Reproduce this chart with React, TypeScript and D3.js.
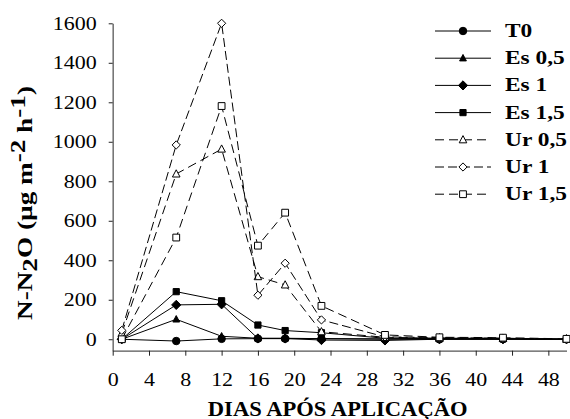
import React, { useEffect, useRef } from "react";
import * as d3 from "d3";

// days after application
const days = [1, 7, 12, 16, 19, 23, 30, 36, 43, 50];

// N-N2O flux (ug m-2 h-1)
const t0 = [0, -9, 2, 3, 3, 3, 0, 0, 0, 0];
const es05 = [0, 101, 15, 5, 5, 3, 2, 2, 2, 0];
const es1 = [0, 174, 177, 4, 4, -4, -6, 0, 0, 0];
const es15 = [0, 241, 195, 72, 44, 33, 5, 3, 3, 0];
const ur05 = [30, 837, 963, 317, 275, 38, 10, 5, 5, 0];
const ur1 = [45, 984, 1600, 223, 385, 98, 12, 8, 5, 0];
const ur15 = [0, 515, 1181, 474, 641, 169, 22, 10, 8, 2];

const seriesNames = ["T0", "Es 0,5", "Es 1", "Es 1,5", "Ur 0,5", "Ur 1", "Ur 1,5"];
const seriesValues = [t0, es05, es1, es15, ur05, ur1, ur15];

const xTicks = [0, 4, 8, 12, 16, 20, 24, 28, 32, 36, 40, 44, 48];
const yTicks = [0, 200, 400, 600, 800, 1000, 1200, 1400, 1600];

const W = 570;
const H = 419;
const FONT = "'Liberation Serif', 'Times New Roman', serif";

// marker style per series
const styles = [
  { shape: "circle", filled: true, dash: null },
  { shape: "triangle", filled: true, dash: null },
  { shape: "diamond", filled: true, dash: null },
  { shape: "square", filled: true, dash: null },
  { shape: "triangle", filled: false, dash: "9,5" },
  { shape: "diamond", filled: false, dash: "9,4" },
  { shape: "square", filled: false, dash: "9,5" },
];

function markerPath(shape: string, filled: boolean) {
  if (shape === "circle") return d3.symbol(d3.symbolCircle, 44)()!;
  if (shape === "triangle") {
    const s = filled ? 3.4 : 3.8;
    return `M0,${-s * 1.1}L${s},${s * 0.8}L${-s},${s * 0.8}Z`;
  }
  if (shape === "diamond") {
    const s = filled ? 4.6 : 4.1;
    return `M0,${-s}L${s},0L0,${s}L${-s},0Z`;
  }
  const s = filled ? 3.1 : 3.4;
  return `M${-s},${-s}H${s}V${s}H${-s}Z`;
}

const App = () => {
  const svgRef = useRef<SVGSVGElement>(null);

  useEffect(() => {
    const svg = d3.select(svgRef.current);
    svg.selectAll("*").remove();

    const x = d3.scaleLinear().domain([0, 50]).range([112.7, 566.5]);
    const y = d3.scaleLinear().domain([-58, 1600]).range([350.7, 23.3]);

    // y axis
    const gy = svg
      .append("g")
      .attr("transform", `translate(${x(0)},0)`)
      .call(
        d3.axisLeft(y).tickValues(yTicks).tickFormat(d3.format("d")).tickSize(4).tickSizeOuter(0)
      );
    gy.select(".domain").attr("stroke", "#777").attr("stroke-width", 1.6);
    gy.selectAll(".tick line").attr("stroke", "#222");
    gy.selectAll(".tick text")
      .attr("font-family", FONT)
      .attr("font-size", 18)
      .attr("fill", "#000")
      .attr("x", -16 / 1.22)
      .attr("dy", "0.33em")
      .attr("transform", "scale(1.22,1)");

    // x axis
    const gx = svg
      .append("g")
      .attr("transform", `translate(0,${y.range()[0]})`)
      .call(
        d3.axisBottom(x).tickValues(xTicks).tickFormat(d3.format("d")).tickSize(5).tickSizeOuter(0)
      );
    gx.select(".domain").attr("stroke", "#555").attr("stroke-width", 1.3);
    gx.selectAll(".tick line").attr("stroke", "#222");
    gx.selectAll(".tick text")
      .attr("font-family", FONT)
      .attr("font-size", 18)
      .attr("fill", "#000")
      .attr("y", 35.3)
      .attr("dy", 0)
      .attr("transform", "scale(1.22,1)");

    const line = d3
      .line<number>()
      .x((_, i) => x(days[i]))
      .y((d) => y(d));

    seriesValues.forEach((vals, k) => {
      const st = styles[k];
      svg
        .append("path")
        .datum(vals)
        .attr("d", line)
        .attr("fill", "none")
        .attr("stroke", "#000")
        .attr("stroke-width", 1)
        .attr("stroke-dasharray", st.dash);

      svg
        .append("g")
        .selectAll("path")
        .data(vals)
        .join("path")
        .attr("transform", (d, i) => `translate(${x(days[i])},${y(d)})`)
        .attr("d", markerPath(st.shape, st.filled))
        .attr("fill", st.filled ? "#000" : "#fff")
        .attr("stroke", "#000")
        .attr("stroke-width", 1);
    });

    // legend
    const legend = svg.append("g");
    seriesNames.forEach((name, k) => {
      const st = styles[k];
      const ly = 31 + k * 27.2;
      legend
        .append("line")
        .attr("x1", 435)
        .attr("x2", 491)
        .attr("y1", ly)
        .attr("y2", ly)
        .attr("stroke", "#000")
        .attr("stroke-width", 1)
        .attr("stroke-dasharray", st.dash);
      legend
        .append("path")
        .attr("transform", `translate(463,${ly})`)
        .attr("d", markerPath(st.shape, st.filled))
        .attr("fill", st.filled ? "#000" : "#fff")
        .attr("stroke", "#000");
      legend
        .append("g")
        .attr("transform", `translate(505,${ly + 6}) scale(1.3,1)`)
        .append("text")
        .attr("font-family", FONT)
        .attr("font-size", 18)
        .attr("font-weight", "bold")
        .text(name);
    });

    // axis titles
    svg
      .append("g")
      .attr("transform", "translate(337.7,415.7) scale(1.13,1)")
      .append("text")
      .attr("text-anchor", "middle")
      .attr("font-family", FONT)
      .attr("font-size", 20)
      .attr("font-weight", "bold")
      .text("DIAS APÓS APLICAÇÃO");

    const yl = svg
      .append("g")
      .attr("transform", "translate(32,203) rotate(-90) scale(1.36,1)")
      .append("text")
      .attr("text-anchor", "middle")
      .attr("font-family", FONT)
      .attr("font-size", 20)
      .attr("font-weight", "bold");
    yl.append("tspan").text("N-N");
    yl.append("tspan").attr("dy", 5).text("2");
    yl.append("tspan").attr("dy", -5).text("O (µg m");
    yl.append("tspan").attr("dy", -7).text("-2");
    yl.append("tspan").attr("dy", 7).text(" h");
    yl.append("tspan").attr("dy", -7).text("-1");
    yl.append("tspan").attr("dy", 7).text(")");
  }, []);

  return (
    <svg
      ref={svgRef}
      width={W}
      height={H}
      style={{ position: "absolute", left: 0, top: 0, background: "#fff" }}
    />
  );
};

export default App;
